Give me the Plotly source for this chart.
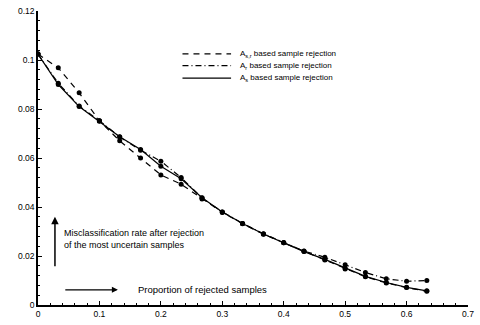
import plotly.graph_objects as go

x = [0, 0.033, 0.067, 0.1, 0.133, 0.167, 0.2, 0.233, 0.267, 0.3,
     0.333, 0.367, 0.4, 0.433, 0.467, 0.5, 0.533, 0.567, 0.6, 0.633]

a_sr = [0.1024, 0.0968, 0.0866, 0.0752, 0.0670, 0.0600, 0.0531, 0.0493, 0.0433, 0.0378,
        0.0332, 0.0289, 0.0254, 0.0219, 0.0184, 0.0147, 0.0115, 0.0090, 0.0071, 0.0056]
a_r = [0.1024, 0.0905, 0.0812, 0.0752, 0.0686, 0.0632, 0.0587, 0.0520, 0.0437, 0.0380,
       0.0333, 0.0291, 0.0255, 0.0220, 0.0195, 0.0164, 0.0133, 0.0107, 0.0097, 0.0100]
a_s = [0.1024, 0.0900, 0.0810, 0.0750, 0.0687, 0.0635, 0.0566, 0.0515, 0.0438, 0.0380,
       0.0333, 0.0290, 0.0254, 0.0218, 0.0186, 0.0150, 0.0117, 0.0092, 0.0072, 0.0058]

names = ["A<sub>s,r</sub> based sample rejection",
         "A<sub>r</sub> based sample rejection",
         "A<sub>s</sub> based sample rejection"]
dashes = ["6px,5px", "6px,3px,1px,3px", "solid"]
series = [a_sr, a_r, a_s]

yticks = [0, 0.02, 0.04, 0.06, 0.08, 0.1, 0.12]
ytext = ["0", "0.02", "0.04", "0.06", "0.08", "0.1", "0.12"]
xticks = [0, 0.1, 0.2, 0.3, 0.4, 0.5, 0.6, 0.7]
xtext = ["0", "0.1", "0.2", "0.3", "0.4", "0.5", "0.6", "0.7"]

FONT = "Liberation Sans, Arial, sans-serif"
fig = go.Figure()
for nm, d, ys in zip(names, dashes, series):
    fig.add_trace(go.Scatter(x=x, y=ys, mode="lines", name=nm, showlegend=False,
                             line=dict(color="black", width=1.2, dash=d)))
for ys in series:
    fig.add_trace(go.Scatter(x=x, y=ys, mode="markers", showlegend=False,
                             marker=dict(color="black", size=5)))

fig.update_layout(
    width=480, height=325,
    margin=dict(l=38, r=10, t=6, b=19),
    plot_bgcolor="white", paper_bgcolor="white",
    font=dict(family=FONT, size=8.5, color="black"),
    showlegend=False,
    xaxis=dict(range=[0, 0.7], tickvals=xticks, ticktext=xtext, showgrid=False,
               zeroline=False, showline=True, linecolor="black", linewidth=1.5,
               ticks="inside", ticklen=4, tickcolor="black", ticklabeloverflow="allow",
               minor=dict(ticks="inside", ticklen=2, dtick=0.02, tickcolor="black")),
    yaxis=dict(range=[0, 0.12], tickvals=yticks, ticktext=ytext, showgrid=False,
               zeroline=False, showline=True, linecolor="black", linewidth=1.5,
               ticks="inside", ticklen=4, tickcolor="black", ticklabeloverflow="allow",
               minor=dict(ticks="inside", ticklen=2, dtick=0.004, tickcolor="black")),
)

# manual compact legend
legend_y = [0.854, 0.814, 0.772]
for nm, d, ly in zip(names, dashes, legend_y):
    fig.add_shape(type="line", xref="paper", yref="paper", x0=0.336, x1=0.449,
                  y0=ly, y1=ly, line=dict(color="black", width=1.2, dash=d))
    fig.add_annotation(x=0.466, y=ly, xref="paper", yref="paper", xanchor="left",
                       yanchor="middle", text=nm, showarrow=False, font=dict(size=8))

# vertical arrow + label
fig.add_annotation(x=0.0276, y=0.036, ax=0.0276, ay=0.0152, xref="x", yref="y",
                   axref="x", ayref="y", text="", showarrow=True, arrowhead=2,
                   arrowsize=1, arrowwidth=1.5, arrowcolor="black")
fig.add_annotation(x=0.039, y=0.0268, xref="x", yref="y", xanchor="left", yanchor="middle",
                   text="Misclassification rate after rejection<br>of the most uncertain samples",
                   showarrow=False, align="left", font=dict(size=9))
# horizontal arrow + label
fig.add_annotation(x=0.130, y=0.0062, ax=0.042, ay=0.0062, xref="x", yref="y",
                   axref="x", ayref="y", text="", showarrow=True, arrowhead=2,
                   arrowsize=1, arrowwidth=1.2, arrowcolor="black")
fig.add_annotation(x=0.160, y=0.0062, xref="x", yref="y", xanchor="left", yanchor="middle",
                   text="Proportion of rejected samples", showarrow=False, font=dict(size=9.5))

fig.write_html("out.html")
